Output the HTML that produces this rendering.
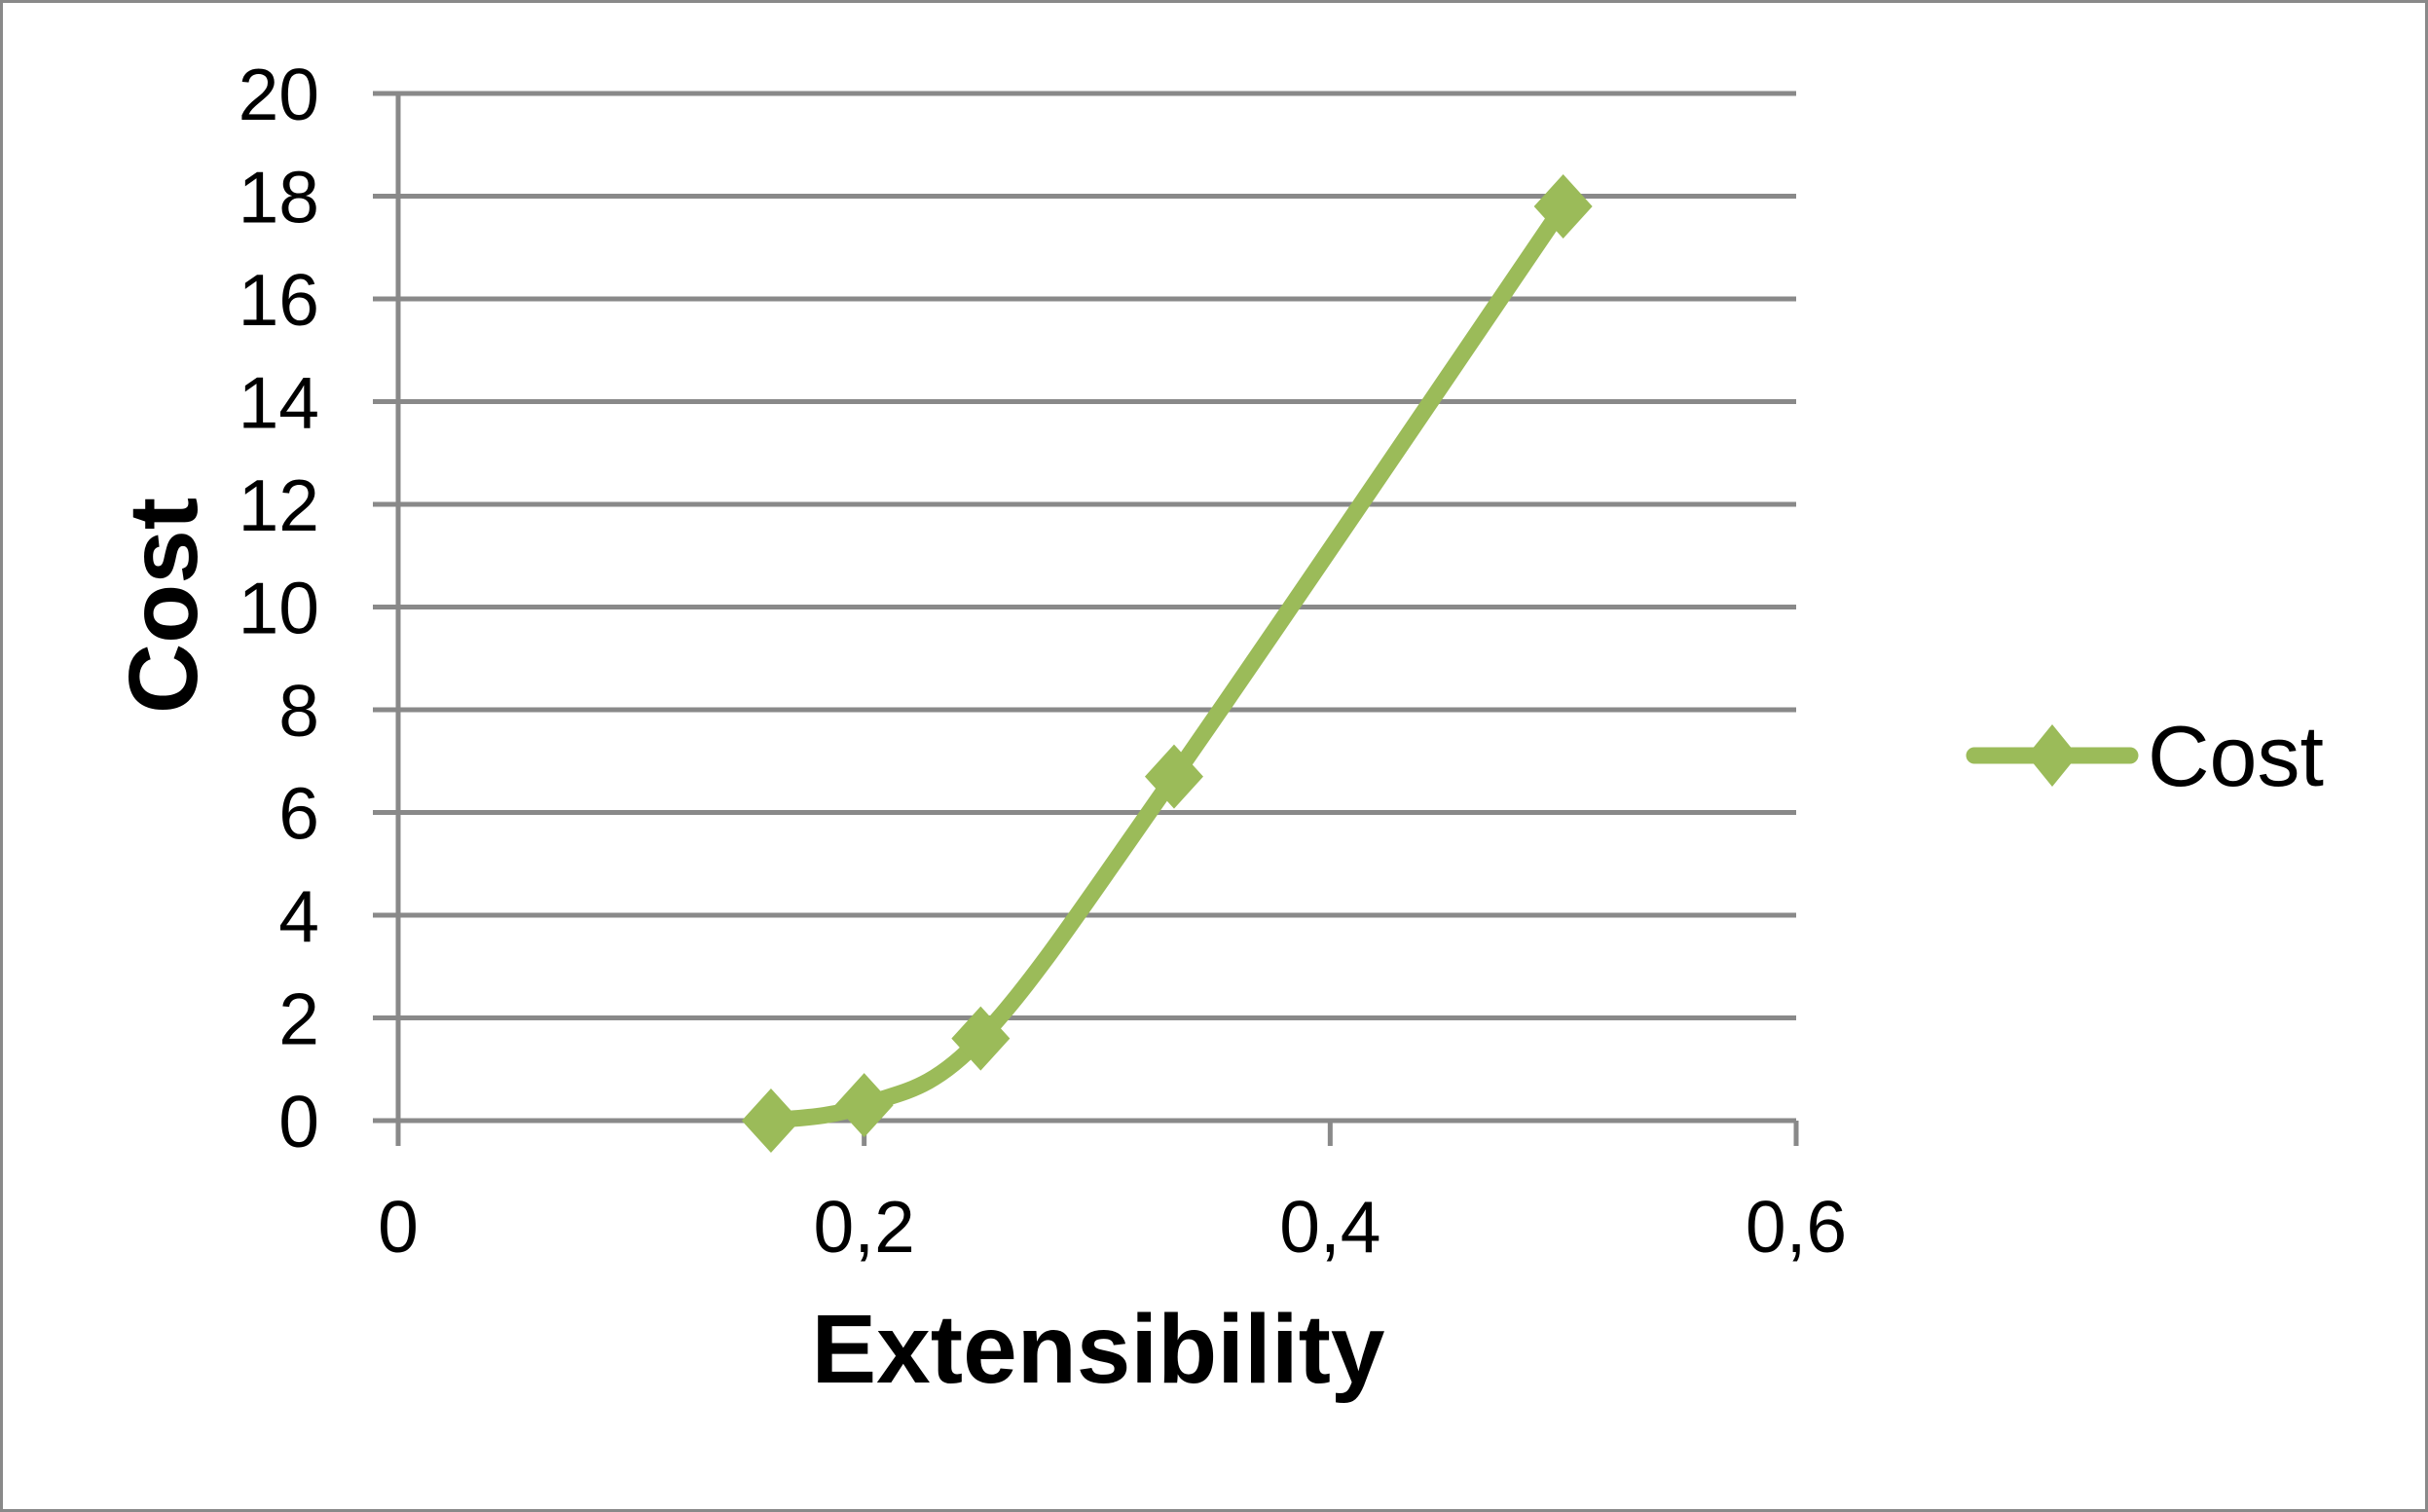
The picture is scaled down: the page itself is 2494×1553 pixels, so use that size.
<!DOCTYPE html>
<html><head><meta charset="utf-8"><style>
html,body{margin:0;padding:0;background:#fff}
svg{display:block}
</style></head><body>
<svg id="chart" width="2494" height="1553" viewBox="0 0 2494 1553" xmlns="http://www.w3.org/2000/svg">
<rect x="1.5" y="1.5" width="2491" height="1550" fill="#fff" stroke="#898989" stroke-width="3"/>
<g id="grid"></g>
<g id="axes"></g>
<g id="series"></g>
<text transform="translate(202,622) rotate(-90)" text-anchor="middle" font-family="Liberation Sans, sans-serif" font-weight="bold" font-size="100">Cost</text>
<text x="1128" y="1420" text-anchor="middle" font-family="Liberation Sans, sans-serif" font-weight="bold" font-size="100">Extensibility</text>
<g>
<line x1="2028" y1="776" x2="2188" y2="776" stroke="#9BBB59" stroke-width="17" stroke-linecap="round"/>
<polygon points="2108,744 2134,776 2108,808 2082,776" fill="#9BBB59"/>
<text x="2206" y="807" font-family="Liberation Sans, sans-serif" font-size="88">Cost</text>
</g>
</svg>
<script>
const xTicks = [0, 0.2, 0.4, 0.6];
const xTickLabels = ["0", "0,2", "0,4", "0,6"];
const yTicks = [0, 2, 4, 6, 8, 10, 12, 14, 16, 18, 20];
const xValues = [0.16, 0.2, 0.25, 0.333, 0.5];
const costValues = [0, 0.3, 1.6, 6.7, 17.8];

const NS = "http://www.w3.org/2000/svg";
const X0 = 409, X1 = 1845, Y0 = 1151, Y1 = 96;
function sx(v){ return X0 + (v - 0) / 0.6 * (X1 - X0); }
function sy(v){ return Y0 - (v - 0) / 20 * (Y0 - Y1); }
function mk(tag, attrs, parent){
  const e = document.createElementNS(NS, tag);
  for (const k in attrs) e.setAttribute(k, attrs[k]);
  parent.appendChild(e);
  return e;
}
const grid = document.getElementById('grid');
const axes = document.getElementById('axes');
const series = document.getElementById('series');

yTicks.forEach(function(t){
  const y = sy(t);
  const l = mk('line', {x1: 383, x2: X1, y1: y, y2: y, stroke: '#898989', 'stroke-width': 5}, grid);
  
  
  const tx = mk('text', {x: 328, y: y + 27, 'text-anchor': 'end', 'font-family': 'Liberation Sans, sans-serif', 'font-size': 75}, axes);
  tx.textContent = String(t);
  
  
});
const ya = mk('line', {x1: X0, x2: X0, y1: Y1 - 2, y2: 1177, stroke: '#898989', 'stroke-width': 5}, axes);


xTicks.forEach(function(t, i){
  const x = sx(t);
  const tk = mk('line', {x1: x, x2: x, y1: Y0, y2: 1177, stroke: '#898989', 'stroke-width': 5}, axes);
  
  
  const tx = mk('text', {x: x, y: 1286, 'text-anchor': 'middle', 'font-family': 'Liberation Sans, sans-serif', 'font-size': 75}, axes);
  tx.textContent = xTickLabels[i];
  
  
});

const pts = xValues.map(function(v, i){ return [sx(v), sy(costValues[i])]; });
let d = 'M' + pts[0][0] + ',' + pts[0][1];
for (let i = 0; i < pts.length - 1; i++){
  const p0 = pts[Math.max(0, i - 1)], p1 = pts[i], p2 = pts[i + 1], p3 = pts[Math.min(pts.length - 1, i + 2)];
  const t = 1/6;
  const c1 = [p1[0] + (p2[0] - p0[0]) * t, p1[1] + (p2[1] - p0[1]) * t];
  const c2 = [p2[0] - (p3[0] - p1[0]) * t, p2[1] - (p3[1] - p1[1]) * t];
  d += ' C' + c1[0] + ',' + c1[1] + ' ' + c2[0] + ',' + c2[1] + ' ' + p2[0] + ',' + p2[1];
}
const path = mk('path', {d: d, fill: 'none', stroke: '#9BBB59', 'stroke-width': 17, 'stroke-linejoin': 'round', 'stroke-linecap': 'round'}, series);


pts.forEach(function(p, i){
  const m = mk('polygon', {points: p[0] + ',' + (p[1] - 33) + ' ' + (p[0] + 30) + ',' + p[1] + ' ' + p[0] + ',' + (p[1] + 33) + ' ' + (p[0] - 30) + ',' + p[1], fill: '#9BBB59'}, series);
  
  
});
</script>
</body></html>
